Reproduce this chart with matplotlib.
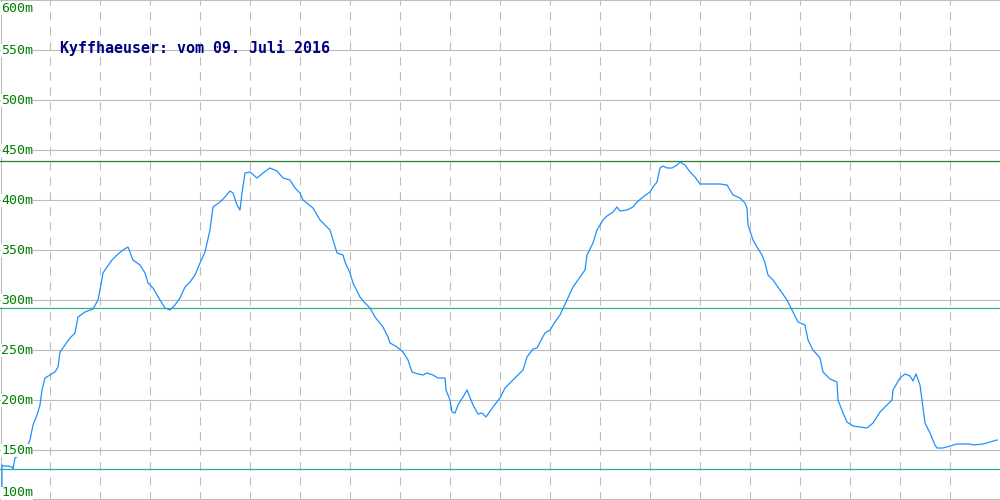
import matplotlib
matplotlib.use("Agg")
import matplotlib.pyplot as plt

# Elevation profile (distance index, elevation in m)
dist = [2, 2, 4, 8, 12, 13, 15, 20, 25, 30, 33, 37, 40, 42, 45, 50, 55, 58, 60, 65, 70, 75, 78, 85,
        93, 98, 100, 103, 107, 112, 117, 123, 128, 133, 140, 145, 148, 153, 160, 165, 170, 175, 180,
        185, 190, 195, 200, 205, 210, 213, 220, 225, 230, 233, 237, 240, 242, 245, 250, 257, 263, 270,
        277, 283, 290, 295, 300, 303, 313, 320, 330, 333, 337, 343, 345, 350, 353, 360, 365, 370, 375,
        383, 388, 390, 397, 403, 408, 412, 418, 423, 427, 433, 438, 445, 446, 450, 452, 455, 458, 463,
        467, 473, 478, 482, 486, 493, 500, 505, 510, 517, 523, 527, 533, 537, 540, 545, 550, 555, 560,
        567, 573, 580, 585, 587, 593, 597, 603, 607, 613, 617, 620, 627, 633, 637, 643, 650, 653, 657,
        660, 663, 667, 672, 677, 680, 685, 690, 695, 700, 720, 727, 733, 740, 745, 747, 748, 753, 757,
        762, 765, 768, 773, 780, 787, 793, 798, 805, 808, 813, 820, 823, 830, 837, 838, 843, 847, 853,
        860, 867, 873, 880, 887, 892, 893, 900, 905, 910, 913, 916, 920, 922, 925, 930, 935, 937, 943,
        950, 957, 970, 973, 983, 990, 997]
elev = [100, 135, 134, 134, 133, 131, 142, 145, 148, 160, 175, 185, 195, 210, 222, 225, 228, 233, 248, 255,
        262, 267, 283, 288, 291, 300, 310, 327, 333, 340, 345, 350, 353, 340, 335, 327, 317, 312, 300,
        292, 290, 295, 302, 313, 318, 325, 337, 348, 370, 393, 398, 403, 409, 407, 395, 390, 407, 427,
        428, 422, 427, 432, 429, 422, 420, 412, 407, 400, 392, 380, 370, 360, 347, 345, 338, 327, 317,
        303, 297, 292, 283, 273, 263, 257, 253, 248, 240, 228, 226, 225, 227, 225, 222, 222, 210, 200,
        188, 187, 195, 203, 210, 195, 186, 187, 183, 193, 202, 212, 217, 224, 230, 243, 251, 252, 258,
        267, 270, 278, 285, 300, 313, 323, 330, 345, 357, 370, 380, 384, 388, 393, 389, 390, 393, 398,
        403, 408, 413, 418, 432, 434, 432, 432, 435, 438, 435, 428, 423, 416, 416, 415, 405, 402, 397,
        392, 375, 360, 353, 345, 337, 325, 320, 310, 300, 288, 278, 275, 260, 250, 242, 228, 221, 218,
        200, 187, 178, 174, 173, 172, 177, 188, 195, 200, 210, 222, 226, 224, 219, 226, 215, 200, 177,
        167, 155, 152, 152, 154, 156, 156, 155, 156, 158, 160]

elev_max = 439
elev_avg = 292
elev_min = 131
y_ticks = [100, 150, 200, 250, 300, 350, 400, 450, 500, 550, 600]
y_labels = [f"{v}m" for v in y_ticks]
title = "Kyffhaeuser: vom 09. Juli 2016"

fig = plt.figure(figsize=(10, 5), dpi=100)
ax = fig.add_axes([0, 0, 1, 1])
ax.set_xlim(0, 1000)
ax.set_ylim(100, 600)
ax.axis("off")

# grid
for v in y_ticks:
    yy = min(max(v, 100.6), 599.6)
    ax.axhline(yy, color="#bdbdbd", lw=0.8, zorder=1)
for xv in range(50, 1000, 50):
    ax.axvline(xv, color="#bdbdbd", lw=0.8, ls=(0, (7.5, 6)), zorder=1)
ax.axvline(0.6, color="#bdbdbd", lw=0.8, zorder=1)

# reference lines
ax.axhline(elev_max, color="#2e7d2e", lw=0.9, zorder=2)
ax.axhline(elev_avg, color="#3cb371", lw=0.9, zorder=2)
ax.axhline(elev_min, color="#2fa89a", lw=0.9, zorder=2)

ax.plot(dist, elev, color="#1e90ff", lw=0.9, zorder=3)

# y labels
for v, lab in zip(y_ticks, y_labels):
    yy = v
    if v == 600:
        yy = 591.5
    elif v == 100:
        yy = 107
    ax.text(1, yy, lab, color="#008000", family="DejaVu Sans Mono", fontsize=9.5,
            va="center", ha="left", zorder=4,
            bbox=dict(facecolor="white", edgecolor="none", pad=0))

ax.text(60, 551.5, title, color="#000080", family="DejaVu Sans Mono", fontsize=10.8,
        fontweight="bold", va="center", ha="left", zorder=4)

fig.savefig("out.png", dpi=100)
